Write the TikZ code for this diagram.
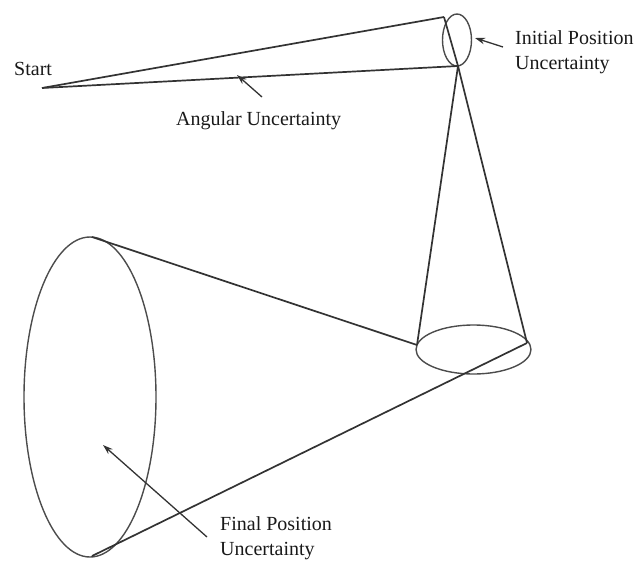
\documentclass[tikz,border=0pt]{standalone}
\usepackage{fontspec}
\setmainfont{Liberation Serif}
\usetikzlibrary{arrows.meta}
\tikzset{
  every picture/.style={x=1pt,y=-1pt},
  line/.style={draw=black!80,line width=1.7pt},
  thin line/.style={draw=black!70,line width=1.4pt},
  pointer/.style={draw=black!80,line width=1.3pt,-{Stealth[length=10pt,width=6.5pt]}},
  lbl/.style={anchor=base west,inner sep=0pt,font=\fontsize{20}{25}\selectfont,text=black!90},
  lbl2/.style={anchor=north west,align=left,inner sep=0pt,font=\fontsize{20}{25}\selectfont,text=black!90}
}
\begin{document}
\begin{tikzpicture}
\useasboundingbox (0,0) rectangle (635,560);
\coordinate (start) at (42,88);
\coordinate (a) at (444,17);
\coordinate (b) at (458,66);
\coordinate (c) at (417,345);
\coordinate (d) at (527,343);
\coordinate (e) at (92,237);
\coordinate (f) at (92,556);
\draw[thin line] (457,40) ellipse [x radius=14.5,y radius=26];
\draw[thin line] (473.5,349.5) ellipse [x radius=57.5,y radius=24.5];
\draw[thin line] (90,397) ellipse [x radius=66,y radius=160];
\draw[line] (start) -- (a);
\draw[line] (start) -- (b);
\draw[line] (a) -- (b);
\draw[line] (b) -- (c);
\draw[line] (b) -- (d);
\draw[line] (c) -- (e);
\draw[line] (d) -- (f);
\node[lbl] (startlbl) at (14,75) {Start};
\node[lbl] (angular) at (176,125) {Angular Uncertainty};
\node[lbl2] (initial) at (515,30) {Initial Position\\Uncertainty};
\node[lbl2] (final) at (220,516) {Final Position\\Uncertainty};
\coordinate (p1s) at (262,97);
\coordinate (p1e) at (237,75);
\coordinate (p2s) at (503,47);
\coordinate (p2e) at (475,38);
\coordinate (p3s) at (207,537);
\coordinate (p3e) at (103,445);
\draw[pointer] (p1s) -- (p1e);
\draw[pointer] (p2s) -- (p2e);
\draw[pointer] (p3s) -- (p3e);
\end{tikzpicture}
\end{document}
